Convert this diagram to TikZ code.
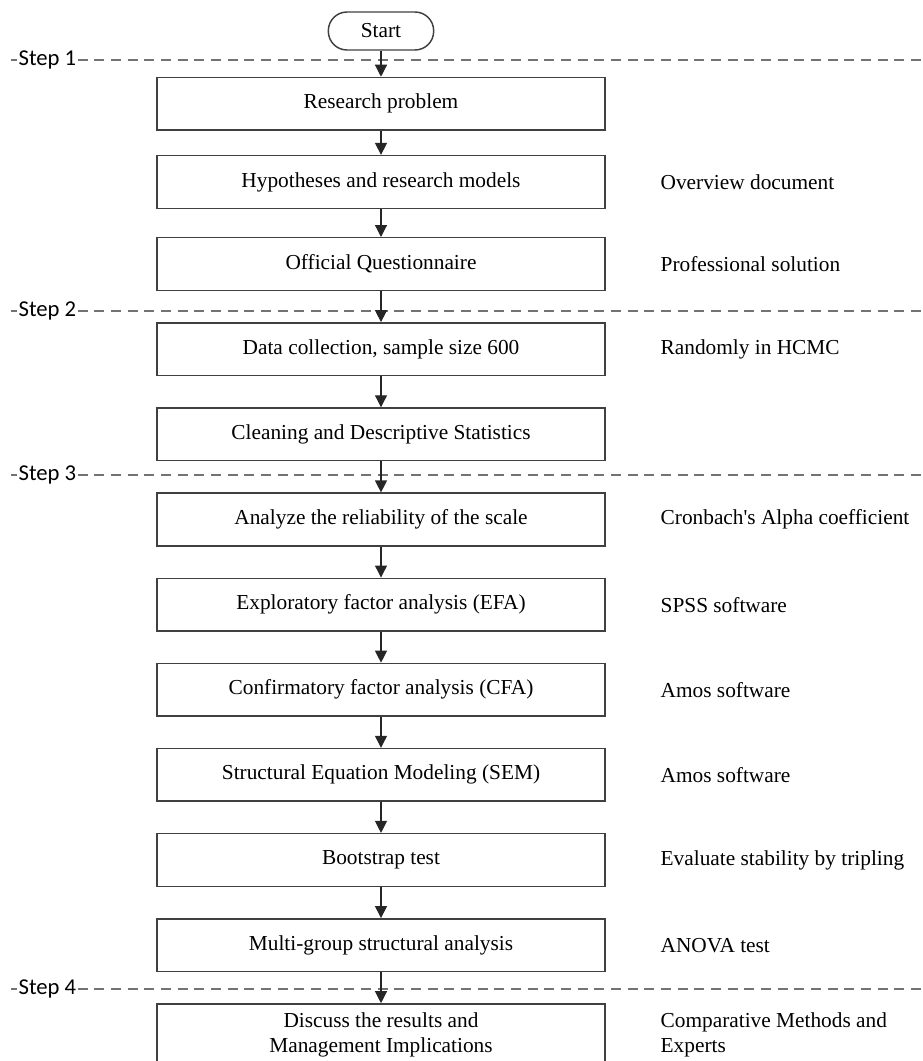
\documentclass[tikz,border=0pt]{standalone}
\usepackage{fontspec}
\setmainfont{Liberation Serif}
\newfontfamily\stepfont{Carlito}
\usetikzlibrary{positioning,arrows.meta}

\begin{document}
\begin{tikzpicture}[x=0.75pt,y=-0.75pt,
	box/.style={draw=black!75,line width=1.1pt,minimum width=336pt,minimum height=39.5pt,
		inner sep=2pt,align=center,font=\fontsize{16}{19}\selectfont},
	startbox/.style={draw=black!75,line width=1.1pt,rounded corners=14pt,minimum width=79pt,
		minimum height=28.5pt,inner sep=2pt,font=\fontsize{16}{19}\selectfont},
	note/.style={inner sep=0pt,align=left,font=\fontsize{16}{19}\selectfont},
	flow/.style={draw=black!85,line width=0.9pt,-{Triangle[length=9pt,width=9pt]}},
	stepline/.style={draw=black!55,line width=1.1pt,dash pattern=on 7.5pt off 5pt},
	steplabel/.style={fill=white,inner sep=1pt,anchor=west,font=\stepfont\fontsize{17}{20}\selectfont}]
	\useasboundingbox (0,0) rectangle (923,1061);
	\clip (0,0) rectangle (923,1061);
	%% step separators
	\foreach \y/\s in {60/1,311/2,475/3,989/4}{
		\draw[stepline] (11,\y) coordinate (l\s) -- (923,\y);
		\node[steplabel] (st\s) at (l\s) [xshift=4.5pt] {Step \s};
	}
	%% flow boxes
	\node[startbox] (s0) at (381,31) {Start};
	\node[box,below=19.5pt of s0] (b1) {Research problem};
	\node[box,below=18pt of b1] (b2) {Hypotheses and research models};
	\node[box,below=21pt of b2] (b3) {Official Questionnaire};
	\node[box,below=23.25pt of b3] (b4) {Data collection, sample size 600};
	\node[box,below=23.25pt of b4] (b5) {Cleaning and Descriptive Statistics};
	\node[box,below=23.25pt of b5] (b6) {Analyze the reliability of the scale};
	\node[box,below=23.25pt of b6] (b7) {Exploratory factor analysis (EFA)};
	\node[box,below=23.25pt of b7] (b8) {Confirmatory factor analysis (CFA)};
	\node[box,below=23.25pt of b8] (b9) {Structural Equation Modeling (SEM)};
	\node[box,below=23.25pt of b9] (b10) {Bootstrap test};
	\node[box,below=23.25pt of b10] (b11) {Multi-group structural analysis};
	\node[box,below=23.25pt of b11,minimum height=46pt] (b12) {Discuss the results and\\Management Implications};
	% notes on the right
	\node[note,right=41pt of b2] (n2) {Overview document};
	\node[note,right=41pt of b3] (n3) {Professional solution};
	\node[note,right=41pt of b4] (n4) {Randomly in HCMC};
	\node[note,right=41pt of b6] (n6) {Cronbach\textquotesingle s Alpha coefficient};
	\node[note,right=41pt of b7] (n7) {SPSS software};
	\node[note,right=41pt of b8] (n8) {Amos software};
	\node[note,right=41pt of b9] (n9) {Amos software};
	\node[note,right=41pt of b10] (n10) {Evaluate stability by tripling};
	\node[note,right=41pt of b11] (n11) {ANOVA test};
	\node[note,right=41pt of b12] (n12) {Comparative Methods and\\Experts};
	% arrows
	\foreach \a/\b in {s0/b1,b1/b2,b2/b3,b3/b4,b4/b5,b5/b6,b6/b7,b7/b8,b8/b9,b9/b10,b10/b11,b11/b12}
		\draw[flow] (\a) -- (\b);
\end{tikzpicture}
\end{document}
